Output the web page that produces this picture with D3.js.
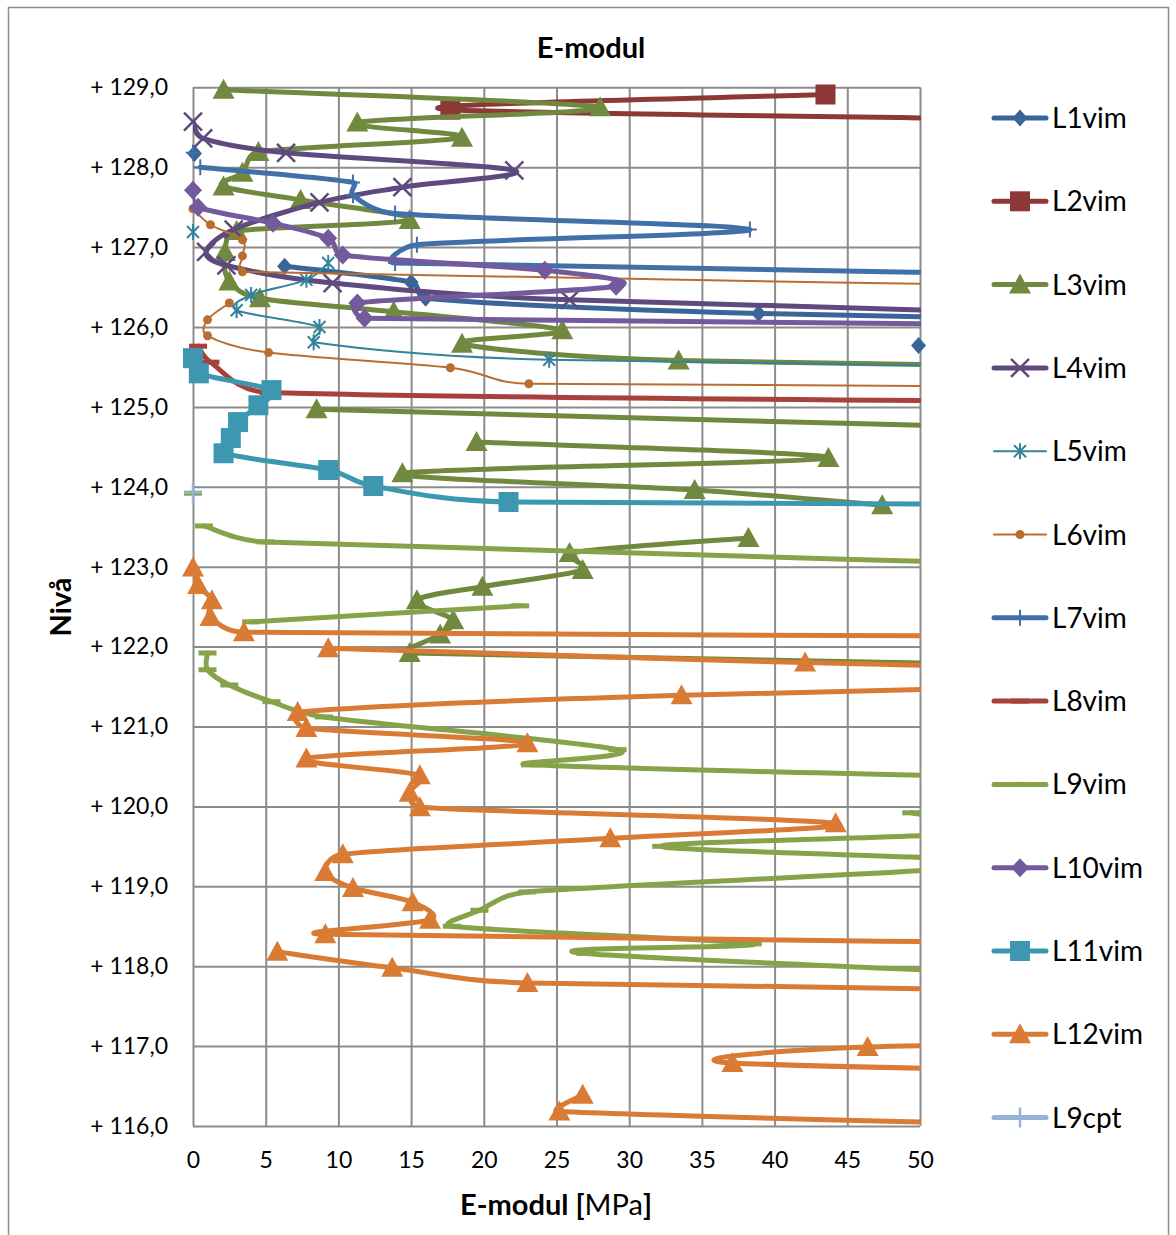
<!DOCTYPE html>
<html>
<head>
<meta charset="utf-8">
<script src="https://cdn.jsdelivr.net/npm/d3@7"></script>
<style>
  body { margin: 0; background: #fff; }
  svg text { font-family: Lato, "Open Sans", sans-serif; fill: #000; }
</style>
</head>
<body>
<div class="canva"></div>
<script>
// ---- data: [E-modul (MPa), Nivå] ; null = gap ; x > 50 lies outside the plot (clipped)
const eTicks = [0, 5, 10, 15, 20, 25, 30, 35, 40, 45, 50];
const levelTicks = [116, 117, 118, 119, 120, 121, 122, 123, 124, 125, 126, 127, 128, 129];
const seriesNames = ["L1vim","L2vim","L3vim","L4vim","L5vim","L6vim","L7vim","L8vim","L9vim","L10vim","L11vim","L12vim","L9cpt"];

const l1vim = [[0.1,128.17], null, [6.3,126.76],[15.0,126.56],[16.0,126.36],[38.9,126.17],[85,126.02], null, [49.9,125.77]];
const l2vim = [[43.5,128.91],[17.7,128.72],[80,128.55]];
const l3vim = [[2.1,128.97],[28.0,128.75],[11.3,128.56],[18.5,128.37],[4.5,128.19],[3.4,127.93],[2.1,127.76],[7.4,127.59],
  [14.9,127.34],[3.0,127.2],[2.2,126.94],[2.5,126.57],[4.6,126.36],[13.8,126.19],[25.4,125.96],[18.5,125.79],[33.4,125.58],[85,125.45], null,
  [8.5,124.97],[85,124.6], null,
  [19.5,124.56],[43.7,124.36],[14.4,124.17],[34.5,123.96],[47.4,123.77], null,
  [38.2,123.36],[25.9,123.17],[26.8,122.96],[19.9,122.75],[15.4,122.58],[17.9,122.33],[17.0,122.15],[14.9,121.92],[85,121.7]];
const l4vim = [[0,128.57],[0.7,128.36],[6.4,128.18],[22.1,127.96],[14.4,127.75],[8.7,127.56],[2.8,127.22],[0.9,126.94],
  [2.3,126.77],[9.6,126.55],[25.9,126.34],[85,126.05]];
const l5vim = [[0,127.19], null, [9.3,126.8],[7.8,126.59],[4.0,126.4],[3.0,126.21],[8.7,126.0],[8.3,125.81],[24.5,125.59],[85,125.45]];
const l6vim = [[0,127.48],[1.2,127.28],[3.4,127.09],[3.4,126.89],[3.4,126.69],[85,126.45], null,
  [2.5,126.3],[1.0,126.09],[1.0,125.89],[5.2,125.68],[17.7,125.49],[23.1,125.29],[85,125.25]];
const l7vim = [[0,128.18], null, [0.5,128.0],[11.0,127.81],[11.0,127.65],[13.9,127.42],[38.3,127.22],[15.4,127.03],[13.9,126.8],[85,126.6]];
const l8vim = [[0.35,125.76],[1.2,125.56],[5.2,125.18],[90,125.03]];
const l9vim = [[0,123.92], null,
  [0.75,123.51],[5.0,123.31],[85,122.9], null,
  [4.0,122.31],[22.5,122.51], null,
  [1.0,121.92],[1.0,121.71],[2.5,121.52],[5.4,121.31],[9.0,121.12],[29.2,120.71],[23.2,120.52],[85,120.25], null,
  [49.4,119.92],[55,119.68],[32.2,119.5],[55,119.28],[23.0,118.93],[19.7,118.7],[17.8,118.5],[38.5,118.28],[27.0,118.16],[70,117.8]];
const l10vim = [[0,127.71],[0.35,127.5],[5.5,127.3],[9.3,127.11],[10.3,126.9],[24.2,126.71],[29.1,126.51],[11.3,126.3],[11.8,126.11],[85,126.0]];
const l11vim = [[0,125.61],[0.4,125.42],[5.4,125.21],[4.5,125.02],[3.1,124.81],[2.6,124.61],[2.1,124.42],[9.3,124.21],[12.4,124.01],[21.7,123.81],[85,123.78]];
const l12vim = [[0,122.99],[0.35,122.77],[1.3,122.58],[1.2,122.37],[3.5,122.18],[85,122.12], null,
  [9.3,121.98],[42.1,121.8],[85,121.62], null,
  [85,121.6],[33.6,121.39],[7.2,121.18],[7.8,120.98],[23.0,120.79],[7.8,120.6],[15.6,120.39],[14.9,120.17],[15.6,119.99],
  [44.2,119.79],[28.7,119.6],[10.3,119.4],[9.1,119.18],[11.0,118.98],[15.1,118.8],[16.3,118.58],[9.1,118.4],[85,118.25], null,
  [5.8,118.18],[13.7,117.98],[23.0,117.79],[85,117.65], null,
  [85,117.06],[46.4,116.99],[37.1,116.79],[85,116.6], null,
  [26.8,116.39],[25.2,116.18],[85,115.9]];
const l9cpt = [[0,123.93]];

const seriesData = [l1vim,l2vim,l3vim,l4vim,l5vim,l6vim,l7vim,l8vim,l9vim,l10vim,l11vim,l12vim,l9cpt];

// look of each series
const styles = [
  {color:"#3A6598", w:5, marker:"diamond"},
  {color:"#8C3836", w:5, marker:"square"},
  {color:"#71893F", w:5, marker:"triangle"},
  {color:"#5E4A7E", w:5, marker:"x"},
  {color:"#31849B", w:2, marker:"star"},
  {color:"#B96E30", w:2, marker:"circle"},
  {color:"#4170A8", w:5, marker:"plus"},
  {color:"#A8403C", w:5, marker:"dash"},
  {color:"#86A34A", w:5, marker:"dash"},
  {color:"#735A9C", w:5, marker:"diamond2"},
  {color:"#3D97B1", w:5, marker:"square"},
  {color:"#DA7B35", w:5, marker:"triangle"},
  {color:"#95B3D7", w:5, marker:"plus2"}
];

const svg = d3.select(".canva").append("svg")
  .attr("width", 1176).attr("height", 1235);

// chart border
svg.append("rect")
  .attr("x", 8.5).attr("y", 7.5).attr("width", 1160).attr("height", 1240)
  .attr("fill", "none").attr("stroke", "#8e8e8e").attr("stroke-width", 1.5);

const x = d3.scaleLinear().domain([0, 50]).range([193, 920]);
const y = d3.scaleLinear().domain([116, 129]).range([1126, 87.3]);

// grid + axes
const fmtLevel = d => "+ " + d3.format(".1f")(d).replace(".", ",");
const yAxis = svg.append("g")
  .attr("transform", `translate(${x(0)},0)`)
  .call(d3.axisLeft(y).tickValues(levelTicks).tickFormat(fmtLevel)
    .tickSize(-(x(50) - x(0))).tickPadding(25));
const xAxis = svg.append("g")
  .attr("transform", `translate(0,${y(116)})`)
  .call(d3.axisBottom(x).tickValues(eTicks).tickFormat(d3.format("d"))
    .tickSize(-(y(116) - y(129))).tickPadding(30));
[xAxis, yAxis].forEach(a => {
  a.select(".domain").remove();
  a.selectAll(".tick line").attr("stroke", "#8c8c8c").attr("stroke-width", 2);
  a.selectAll(".tick text").style("font-size", "23px").attr("fill", "#000");
});
xAxis.selectAll(".tick text").attr("dy", "0.5em");

// clip lines to the plot area
svg.append("clipPath").attr("id", "plotclip")
  .append("rect").attr("x", x(0)).attr("y", y(129) - 3)
  .attr("width", x(50) - x(0) + 1).attr("height", y(116) - y(129) + 6);

// Excel-style smoothing: Bezier with (P2-P0)/6 tangents, each handle
// limited to half of its segment length
function curveExcel(context) {
  let pts;
  return {
    areaStart() {}, areaEnd() {},
    lineStart() { pts = []; },
    point(px, py) { pts.push([+px, +py]); },
    lineEnd() {
      const n = pts.length;
      if (!n) return;
      context.moveTo(pts[0][0], pts[0][1]);
      for (let i = 0; i < n - 1; i++) {
        const p0 = pts[Math.max(i - 1, 0)], p1 = pts[i], p2 = pts[i + 1], p3 = pts[Math.min(i + 2, n - 1)];
        const d12 = Math.hypot(p2[0] - p1[0], p2[1] - p1[1]);
        const lim = (tx, ty) => {
          const l = Math.hypot(tx, ty);
          const k = l > d12 / 2 && l > 0 ? (d12 / 2) / l : 1;
          return [tx * k, ty * k];
        };
        const t1 = lim((p2[0] - p0[0]) / 6, (p2[1] - p0[1]) / 6);
        const t2 = lim((p3[0] - p1[0]) / 6, (p3[1] - p1[1]) / 6);
        context.bezierCurveTo(p1[0] + t1[0], p1[1] + t1[1], p2[0] - t2[0], p2[1] - t2[1], p2[0], p2[1]);
      }
    }
  };
}

const line = d3.line()
  .defined(d => d !== null)
  .x(d => x(d[0])).y(d => y(d[1]))
  .curve(curveExcel);

function drawMarker(g, kind, color, px, py) {
  const m = g.append("g").attr("transform", `translate(${px},${py})`);
  if (kind === "diamond") {
    m.append("path").attr("d", "M0,-8.5L7.5,0L0,8.5L-7.5,0Z").attr("fill", color);
  } else if (kind === "diamond2") {
    m.append("path").attr("d", "M0,-9.5L9,0L0,9.5L-9,0Z").attr("fill", color);
  } else if (kind === "square") {
    m.append("rect").attr("x", -10).attr("y", -10).attr("width", 20).attr("height", 20).attr("fill", color);
  } else if (kind === "triangle") {
    m.append("path").attr("d", "M0,-11L11,9L-11,9Z").attr("fill", color);
  } else if (kind === "x") {
    m.append("path").attr("d", "M-9,-9L9,9M-9,9L9,-9").attr("stroke", color).attr("stroke-width", 2.5);
  } else if (kind === "star") {
    m.append("path").attr("d", "M-6,-6L6,6M-6,6L6,-6M0,-8L0,8").attr("stroke", color).attr("stroke-width", 2);
  } else if (kind === "circle") {
    m.append("circle").attr("r", 4.5).attr("fill", color);
  } else if (kind === "plus") {
    m.append("path").attr("d", "M-7,0L7,0M0,-8L0,8").attr("stroke", color).attr("stroke-width", 2);
  } else if (kind === "plus2") {
    m.append("path").attr("d", "M-9,0L9,0M0,-10L0,10").attr("stroke", color).attr("stroke-width", 2.5);
  } else if (kind === "dash") {
    m.append("rect").attr("x", -9).attr("y", -2.5).attr("width", 18).attr("height", 5).attr("fill", color);
  }
}

const plot = svg.append("g");
seriesData.forEach((data, i) => {
  const st = styles[i];
  const g = plot.append("g").attr("class", "series " + seriesNames[i]);
  g.append("path")
    .datum(data)
    .attr("clip-path", "url(#plotclip)")
    .attr("fill", "none")
    .attr("stroke", st.color)
    .attr("stroke-width", st.w)
    .attr("stroke-linecap", "round")
    .attr("stroke-linejoin", "round")
    .attr("d", line);
  data.filter(d => d !== null && d[0] <= 50 && d[1] >= 116 && d[1] <= 129)
    .forEach(d => drawMarker(g, st.marker, st.color, x(d[0]), y(d[1])));
});

// legend
const legend = svg.append("g");
seriesNames.forEach((name, i) => {
  const st = styles[i];
  const ly = 118 + i * 83.3;
  const lg = legend.append("g");
  lg.append("line").attr("x1", 994).attr("x2", 1046).attr("y1", ly).attr("y2", ly)
    .attr("stroke", st.color).attr("stroke-width", st.w).attr("stroke-linecap", "round");
  drawMarker(lg, st.marker, st.color, 1020, ly);
  lg.append("text").attr("x", 1052).attr("y", ly).attr("dy", "0.36em")
    .style("font-size", "28px").text(name);
});

// titles
svg.append("text").attr("x", 591).attr("y", 58).attr("text-anchor", "middle")
  .style("font-size", "29px").style("font-weight", "bold").text("E-modul");

const xt = svg.append("text").attr("x", 556).attr("y", 1215).attr("text-anchor", "middle")
  .style("font-size", "29px");
xt.append("tspan").style("font-weight", "bold").text("E-modul [");
xt.append("tspan").text("MPa");
xt.append("tspan").style("font-weight", "bold").text("]");

svg.append("text").attr("transform", "translate(71,607) rotate(-90)").attr("text-anchor", "middle")
  .style("font-size", "29px").style("font-weight", "bold").text("Nivå");
</script>
</body>
</html>
